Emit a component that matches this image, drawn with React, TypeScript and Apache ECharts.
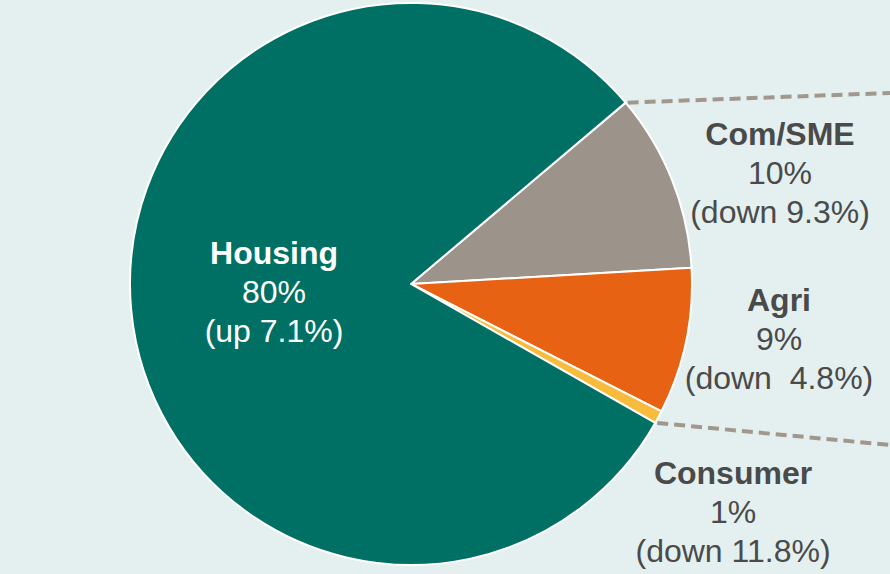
import React, { useEffect, useRef } from "react";
import * as echarts from "echarts";

const categories = ["Com/SME", "Agri", "Consumer", "Housing"];
const shares = [10.25, 8.4, 0.75, 80.6];
const shareLabels = ["10%", "9%", "1%", "80%"];
const changeLabels = ["(down 9.3%)", "(down  4.8%)", "(down 11.8%)", "(up 7.1%)"];

const colors = ["#9c948a", "#e86213", "#f8bb3c", "#007064"];
const labelColors = ["#4a4a4a", "#4a4a4a", "#4a4a4a", "#ffffff"];
const labelPos = [
  [780, 173],
  [779, 339],
  [733, 512],
  [274, 292],
];

const CX = 411;
const CY = 284;
const R = 281;
const START = 40.2;
const FONT = "Liberation Sans";

export default function App() {
  const ref = useRef<HTMLDivElement>(null);
  useEffect(() => {
    document.body.style.margin = "0";
    if (!ref.current) return;
    const chart = echarts.init(ref.current, null, { renderer: "svg" });
    const total = shares.reduce((a, b) => a + b, 0);
    const angleAt = (k: number) => {
      let s = 0;
      for (let i = 0; i < k; i++) s += shares[i];
      return ((START - (s / total) * 360) * Math.PI) / 180;
    };
    const pt = (a: number) => [CX + R * Math.cos(a), CY - R * Math.sin(a)];
    const p1 = pt(angleAt(0));
    const p2 = pt(angleAt(3));
    const dashStyle = { stroke: "#a0978d", lineWidth: 4, lineDash: [11, 6] };
    chart.setOption({
      animation: false,
      backgroundColor: "#e4f0ef",
      series: [
        {
          type: "pie",
          center: [CX, CY],
          radius: R,
          startAngle: START,
          clockwise: true,
          avoidLabelOverlap: false,
          itemStyle: { borderColor: "#ffffff", borderWidth: 2 },
          labelLine: { show: false },
          label: {
            show: true,
            position: "outside",
            fontFamily: FONT,
            lineHeight: 39,
            align: "center",
          },
          labelLayout: (params: any) => {
            const p = labelPos[params.dataIndex];
            return { x: p[0], y: p[1], align: "center", verticalAlign: "middle" };
          },
          data: categories.map((name, i) => ({
            name,
            value: shares[i],
            itemStyle: { color: colors[i] },
            label: {
              formatter: `{b|${name}}\n{v|${shareLabels[i]}}\n{v|${changeLabels[i]}}`,
              rich: {
                b: {
                  fontSize: 32,
                  fontWeight: "bold",
                  color: labelColors[i],
                  fontFamily: FONT,
                  lineHeight: 39,
                  align: "center",
                },
                v: {
                  fontSize: 32,
                  color: labelColors[i],
                  fontFamily: FONT,
                  lineHeight: 39,
                  align: "center",
                },
              },
            },
          })),
        },
      ],
      graphic: [
        {
          type: "line",
          shape: { x1: p1[0] + 2, y1: p1[1], x2: 890, y2: 93 },
          style: dashStyle,
          silent: true,
        },
        {
          type: "line",
          shape: { x1: p2[0] + 2, y1: p2[1], x2: 890, y2: 445 },
          style: dashStyle,
          silent: true,
        },
      ],
    });
    return () => chart.dispose();
  }, []);
  return <div ref={ref} style={{ width: 890, height: 574 }} />;
}
